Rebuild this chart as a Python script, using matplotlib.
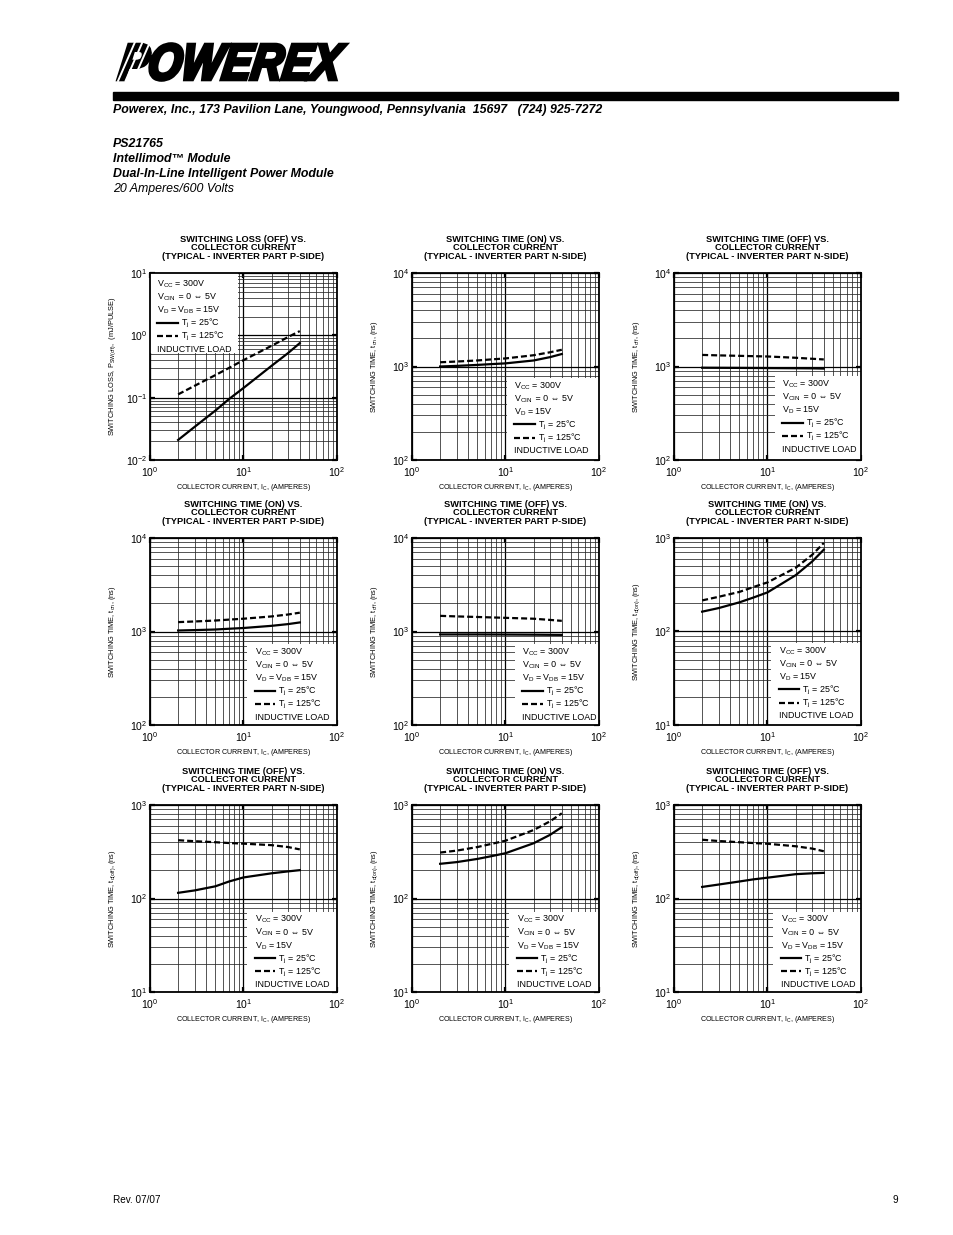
import matplotlib
matplotlib.use("Agg")
import matplotlib.pyplot as plt
from matplotlib.patches import Rectangle, PathPatch
from matplotlib.textpath import TextPath
from matplotlib.font_manager import FontProperties
from matplotlib.transforms import Affine2D
from matplotlib.ticker import LogLocator, NullFormatter

plt.rcParams['font.family'] = ['Liberation Sans', 'DejaVu Sans']
plt.rcParams['mathtext.fontset'] = 'custom'
plt.rcParams['mathtext.rm'] = 'Liberation Sans'
plt.rcParams['mathtext.it'] = 'Liberation Sans:italic'
plt.rcParams['mathtext.bf'] = 'Liberation Sans:bold'
plt.rcParams['mathtext.default'] = 'regular'
plt.rcParams['axes.unicode_minus'] = False

# collector current, amperes (same points read for every curve)
ic = [2, 3, 5, 7, 10, 20, 30, 40]

# switching loss (off), P-side, mJ/pulse
loss_off_p_25 = [0.021, 0.034, 0.062, 0.095, 0.143, 0.325, 0.52, 0.75]
loss_off_p_125 = [0.113, 0.155, 0.23, 0.30, 0.40, 0.68, 0.94, 1.17]
# switching time ton / toff, ns
ton_n_25 = [1000, 1015, 1040, 1060, 1080, 1160, 1260, 1360]
ton_n_125 = [1110, 1130, 1160, 1190, 1220, 1320, 1420, 1510]
toff_n_25 = [970, 968, 966, 964, 962, 958, 955, 950]
toff_n_125 = [1330, 1315, 1300, 1290, 1280, 1240, 1210, 1190]
ton_p_25 = [1025, 1035, 1050, 1070, 1090, 1150, 1200, 1250]
ton_p_125 = [1260, 1280, 1310, 1340, 1370, 1450, 1520, 1590]
toff_p_25 = [930, 930, 930, 929, 928, 925, 922, 920]
toff_p_125 = [1470, 1450, 1430, 1415, 1400, 1370, 1330, 1300]
# delay times td(on) / td(off), ns
tdon_n_25 = [163, 178, 205, 230, 262, 400, 560, 750]
tdon_n_125 = [215, 235, 265, 298, 335, 480, 660, 885]
tdoff_n_25 = [115, 122, 135, 152, 168, 186, 195, 201]
tdoff_n_125 = [420, 410, 400, 392, 386, 372, 355, 335]
tdon_p_25 = [235, 245, 265, 283, 305, 390, 480, 580]
tdon_p_125 = [310, 325, 355, 383, 415, 540, 670, 815]
tdoff_p_25 = [133, 141, 152, 160, 167, 182, 186, 188]
tdoff_p_125 = [425, 412, 400, 392, 385, 362, 342, 320]

titles = [
    "SWITCHING LOSS (OFF) VS.\nCOLLECTOR CURRENT\n(TYPICAL - INVERTER PART P-SIDE)",
    "SWITCHING TIME (ON) VS.\nCOLLECTOR CURRENT\n(TYPICAL - INVERTER PART N-SIDE)",
    "SWITCHING TIME (OFF) VS.\nCOLLECTOR CURRENT\n(TYPICAL - INVERTER PART N-SIDE)",
    "SWITCHING TIME (ON) VS.\nCOLLECTOR CURRENT\n(TYPICAL - INVERTER PART P-SIDE)",
    "SWITCHING TIME (OFF) VS.\nCOLLECTOR CURRENT\n(TYPICAL - INVERTER PART P-SIDE)",
    "SWITCHING TIME (ON) VS.\nCOLLECTOR CURRENT\n(TYPICAL - INVERTER PART N-SIDE)",
    "SWITCHING TIME (OFF) VS.\nCOLLECTOR CURRENT\n(TYPICAL - INVERTER PART N-SIDE)",
    "SWITCHING TIME (ON) VS.\nCOLLECTOR CURRENT\n(TYPICAL - INVERTER PART P-SIDE)",
    "SWITCHING TIME (OFF) VS.\nCOLLECTOR CURRENT\n(TYPICAL - INVERTER PART P-SIDE)",
]
ylabels = [
    "SWITCHING LOSS, P$_{SW(off)}$,  (mJ/PULSE)",
    "SWITCHING TIME, t$_{on}$, (ns)",
    "SWITCHING TIME, t$_{off}$, (ns)",
    "SWITCHING TIME, t$_{on}$, (ns)",
    "SWITCHING TIME, t$_{off}$, (ns)",
    "SWITCHING TIME, t$_{d(on)}$, (ns)",
    "SWITCHING TIME, t$_{d(off)}$, (ns)",
    "SWITCHING TIME, t$_{d(on)}$, (ns)",
    "SWITCHING TIME, t$_{d(off)}$, (ns)",
]
ylims = [(1e-2, 1e1), (1e2, 1e4), (1e2, 1e4), (1e2, 1e4), (1e2, 1e4),
         (1e1, 1e3), (1e1, 1e3), (1e1, 1e3), (1e1, 1e3)]
vd_texts = ["V$_D$ = V$_{DB}$ = 15V", "V$_D$ = 15V", "V$_D$ = 15V",
            "V$_D$ = V$_{DB}$ = 15V", "V$_D$ = V$_{DB}$ = 15V", "V$_D$ = 15V",
            "V$_D$ = 15V", "V$_D$ = V$_{DB}$ = 15V", "V$_D$ = V$_{DB}$ = 15V"]
series = [
    (loss_off_p_25, loss_off_p_125), (ton_n_25, ton_n_125), (toff_n_25, toff_n_125),
    (ton_p_25, ton_p_125), (toff_p_25, toff_p_125), (tdon_n_25, tdon_n_125),
    (tdoff_n_25, tdoff_n_125), (tdon_p_25, tdon_p_125), (tdoff_p_25, tdoff_p_125),
]
# condition boxes (axes fraction: x0, y0, x1, y1)
boxes = [(0, 0.572, 0.47, 1), (0.508, 0, 1, 0.44), (0.54, 0, 1, 0.45),
         (0.52, 0, 1, 0.433), (0.55, 0, 1, 0.433), (0.52, 0, 1, 0.44),
         (0.52, 0, 1, 0.43), (0.52, 0, 1, 0.43), (0.53, 0, 1, 0.43)]

W, H = 954, 1235
fig = plt.figure(figsize=(W / 100, H / 100), dpi=100)

# header logo
fp = FontProperties(family='Liberation Sans', weight='bold', style='italic')
tp = TextPath((0, 0), "POWEREX", prop=fp, size=1)
tp = Affine2D().skew_deg(10, 0).transform_path(tp)
ext = tp.get_extents()
lx0, lx1 = 118 / W, 346 / W
ly0, ly1 = 1 - 80 / H, 1 - 44 / H
tr = (Affine2D().translate(-ext.x0, -ext.y0)
      .scale((lx1 - lx0) / ext.width, (ly1 - ly0) / ext.height)
      .translate(lx0, ly0) + fig.transFigure)
fig.add_artist(PathPatch(tp, transform=tr, facecolor='k', edgecolor='k', lw=2.6))
for k in range(3):
    xb = 118 + 7.5 * k
    fig.add_artist(plt.Line2D([xb / W, (xb + 17) / W], [1 - 81 / H, 1 - 42 / H],
                              transform=fig.transFigure, color='white', lw=1.4))
fig.add_artist(Rectangle((113 / W, 1 - 100 / H), (898 - 113) / W, 8 / H,
                         transform=fig.transFigure, color='k'))
fig.text(113 / W, 1 - 110 / H,
         "Powerex, Inc., 173 Pavilion Lane, Youngwood, Pennsylvania  15697   (724) 925-7272",
         fontsize=8.9, fontweight='bold', style='italic', va='center')
fig.text(113 / W, 1 - 144 / H, "PS21765", fontsize=8.9, fontweight='bold', style='italic', va='center')
fig.text(113 / W, 1 - 159 / H, "Intellimod™ Module", fontsize=8.9, fontweight='bold', style='italic', va='center')
fig.text(113 / W, 1 - 174 / H, "Dual-In-Line Intelligent Power Module", fontsize=8.9,
         fontweight='bold', style='italic', va='center')
fig.text(113 / W, 1 - 189 / H, "20 Amperes/600 Volts", fontsize=8.9, style='italic', va='center')
fig.text(113 / W, 1 - 1200 / H, "Rev. 07/07", fontsize=7.2, va='center')
fig.text(898 / W, 1 - 1200 / H, "9", fontsize=7.2, va='center', ha='right')

lefts = [150, 412, 674]
tops = [273, 538, 805]
size = 187

for i in range(9):
    r, c = divmod(i, 3)
    ax = fig.add_axes([lefts[c] / W, 1 - (tops[r] + size) / H, size / W, size / H])
    ax.set_xscale('log')
    ax.set_yscale('log')
    ax.set_xlim(1, 100)
    ax.set_ylim(*ylims[i])
    for a in (ax.xaxis, ax.yaxis):
        a.set_major_locator(LogLocator(base=10))
        a.set_minor_locator(LogLocator(base=10, subs=range(2, 10)))
        a.set_minor_formatter(NullFormatter())
    ax.grid(which='major', color='k', lw=0.9)
    ax.grid(which='minor', color='0.15', lw=0.55)
    ax.tick_params(which='major', direction='in', length=3.5, width=1.6,
                   top=True, right=True, labelsize=7.5, pad=2)
    ax.tick_params(axis='x', which='major', pad=3.5)
    ax.tick_params(which='minor', length=0)
    for s in ax.spines.values():
        s.set_linewidth(1.3)

    s25, s125 = series[i]
    ax.plot(ic, s25, color='k', lw=1.6, zorder=2.5)
    ax.plot(ic, s125, color='k', lw=1.6, ls=(0, (2.7, 1.35)), zorder=2.5)

    ax.set_title(titles[i], fontsize=6.7, fontweight='bold', linespacing=0.95, pad=10)
    ax.set_xlabel("COLLECTOR CURRENT, I$_C$, (AMPERES)", fontsize=5.15)
    ax.xaxis.set_label_coords(0.5, -0.115)
    ax.set_ylabel(ylabels[i], fontsize=5.3)
    ax.yaxis.set_label_coords(-0.17, 0.5)

    bx0, by0, bx1, by1 = boxes[i]
    ax.add_patch(Rectangle((bx0, by0), bx1 - bx0, by1 - by0, transform=ax.transAxes,
                           facecolor='white', edgecolor='none', zorder=1.8))
    tx = bx0 + 0.04
    ty = by1 - (0.07 if i == 0 else 0.055)
    step = 0.07
    fs = 6.4
    kw = dict(transform=ax.transAxes, fontsize=fs, va='baseline', zorder=3)
    ax.text(tx, ty, "V$_{CC}$ = 300V", **kw)
    t_cin = ax.text(tx, ty - step, "V$_{CIN}$", **kw)
    ax.annotate(" = 0 ⇔ 5V", xy=(1, ty - step), xycoords=(t_cin, ax.transAxes),
                fontsize=fs, va='baseline', zorder=3)
    ax.text(tx, ty - 2 * step, vd_texts[i], **kw)
    ax.plot([tx, tx + 0.11], [ty - 3 * step + 0.015] * 2, transform=ax.transAxes,
            color='k', lw=1.6, zorder=3)
    ax.text(tx + 0.125, ty - 3 * step, "T$_j$ = 25°C", **kw)
    ax.plot([tx, tx + 0.11], [ty - 4 * step + 0.015] * 2, transform=ax.transAxes,
            color='k', lw=1.6, ls=(0, (2.7, 1.35)), zorder=3)
    ax.text(tx + 0.125, ty - 4 * step, "T$_j$ = 125°C", **kw)
    ax.text(tx, ty - 5 * step, "INDUCTIVE LOAD", **kw)

fig.savefig("out.png", dpi=100)
